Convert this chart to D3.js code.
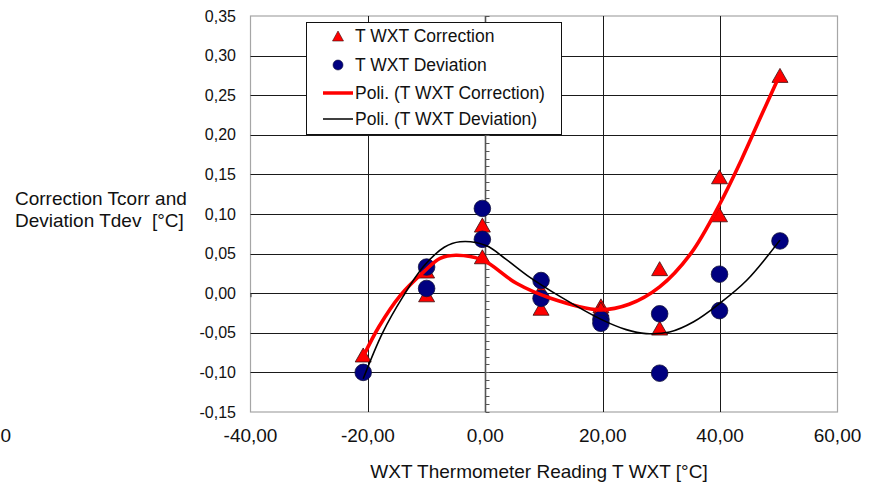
<!DOCTYPE html>
<html><head><meta charset="utf-8">
<script src="https://cdn.jsdelivr.net/npm/d3@7"></script>
<style>
html,body{margin:0;padding:0;background:#fff;}
svg{display:block;font-family:"Liberation Sans",Arial,sans-serif;}
</style></head><body>
<svg id="chart" width="872" height="482"></svg>
<script>
// WXT thermometer readings [°C] and the measured correction / deviation [°C]
const temps      = [-20.8, -10.0, -10.0, -0.5, -0.5, 9.5, 9.5, 19.7, 19.7, 29.7, 29.7, 39.9, 39.9, 50.2];
const correction = [-0.078, 0.028, -0.002, 0.086, 0.046, 0.004, -0.019, -0.016, -0.020, 0.031, -0.044, 0.147, 0.099, 0.275];
const deviation  = [-0.100, 0.033, 0.006, 0.107, 0.068, 0.016, -0.0065, -0.033, -0.038, -0.026, -0.101, 0.024, -0.022, 0.066];

// polynomial trendlines, sampled along the temperature axis
const corrTrendT = [-20.8, -18.1, -14.5, -10.5, -7.7, -5.0, -0.5, 5.3, 11.0, 19.5, 24.5, 29.7, 35.0, 39.9, 43.6, 47.0, 50.2];
const corrTrendV = [-0.080, -0.042, -0.003, 0.027, 0.044, 0.048, 0.042, 0.0125, -0.006, -0.021, -0.014, 0.008, 0.050, 0.112, 0.168, 0.224, 0.276];
const devTrendT  = [-20.8, -17.5, -14.0, -10.5, -7.0, -4.3, 0.2, 3.5, 7.6, 12.7, 20.0, 24.0, 27.4, 31.4, 35.5, 39.9, 44.5, 50.2];
const devTrendV  = [-0.108, -0.050, -0.004, 0.034, 0.058, 0.065, 0.060, 0.043, 0.020, -0.004, -0.034, -0.046, -0.051, -0.049, -0.036, -0.013, 0.016, 0.067];

const xTicks = [-40, -20, 0, 20, 40, 60];
const yTicks = [-0.15, -0.10, -0.05, 0, 0.05, 0.10, 0.15, 0.20, 0.25, 0.30, 0.35];
const legendLabels = ["T WXT Correction", "T WXT Deviation", "Poli. (T WXT Correction)", "Poli. (T WXT Deviation)"];

const locale = d3.formatLocale({decimal: ",", thousands: ".", grouping: [3], currency: ["", ""], minus: "-"});
const fmt = locale.format(".2f");

const svg = d3.select("#chart");
const x = d3.scaleLinear().domain([-40, 60]).range([250.5, 837.5]);
const y = d3.scaleLinear().domain([-0.15, 0.35]).range([412, 16]);

// plot frame and grid
const g = svg.append("g");
g.append("rect").attr("x", x(-40)).attr("y", y(0.35)).attr("width", x(60) - x(-40)).attr("height", y(-0.15) - y(0.35))
  .attr("fill", "none").attr("stroke", "#a6a6a6").attr("stroke-width", 1.2);
g.selectAll(".hgrid").data(yTicks.filter(v => v > -0.15 && v < 0.35)).join("line")
  .attr("x1", x(-40)).attr("x2", x(60)).attr("y1", d => Math.round(y(d)) + 0.5).attr("y2", d => Math.round(y(d)) + 0.5)
  .attr("stroke", "#1a1a1a").attr("stroke-width", 1);
g.selectAll(".vgrid").data(xTicks.filter(v => v !== 0 && v > -40 && v < 60)).join("line")
  .attr("y1", y(0.35)).attr("y2", y(-0.15)).attr("x1", d => Math.round(x(d)) + 0.5).attr("x2", d => Math.round(x(d)) + 0.5)
  .attr("stroke", "#1a1a1a").attr("stroke-width", 1);

// vertical axis crossing at 0 °C with minor ticks
const x0 = Math.round(x(0)) + 0.5;
g.append("line").attr("x1", x0).attr("x2", x0).attr("y1", y(0.35)).attr("y2", y(-0.15)).attr("stroke", "#555").attr("stroke-width", 1.6);
g.selectAll(".minor").data(d3.range(-15, 36).map(v => v / 100)).join("line")
  .attr("x1", x0).attr("x2", x0 + 4).attr("y1", d => Math.round(y(d)) + 0.5).attr("y2", d => Math.round(y(d)) + 0.5)
  .attr("stroke", "#555").attr("stroke-width", 1);
g.append("line").attr("x1", x(-40) + 0.5).attr("x2", x(-40) + 0.5).attr("y1", y(0)).attr("y2", y(0) + 4).attr("stroke", "#333");

// tick labels
svg.selectAll(".ylab").data(yTicks).join("text")
  .attr("x", 236).attr("y", d => y(d)).attr("dy", "0.35em").attr("text-anchor", "end")
  .attr("font-size", 16).attr("fill", "#111").text(d => fmt(d));
svg.selectAll(".xlab").data(xTicks).join("text")
  .attr("x", d => x(d)).attr("y", 442).attr("text-anchor", "middle")
  .attr("font-size", 19).attr("fill", "#111").text(d => fmt(d));
svg.append("text").attr("x", 11).attr("y", 442).attr("text-anchor", "end").attr("font-size", 19).attr("fill", "#111").text("0");

// axis titles
svg.append("text").attr("x", 539).attr("y", 478).attr("text-anchor", "middle").attr("font-size", 19).attr("fill", "#111")
  .text("WXT Thermometer Reading T WXT [°C]");
const yt = svg.append("text").attr("font-size", 19).attr("fill", "#111");
yt.append("tspan").attr("x", 15).attr("y", 204.5).text("Correction Tcorr and");
yt.append("tspan").attr("x", 15).attr("y", 226.5).attr("xml:space", "preserve").text("Deviation Tdev  [°C]");

// marker shapes
const triPath = (w, h) => `M0,${-h / 2}L${w / 2},${h / 2}L${-w / 2},${h / 2}Z`;

// markers: triangles (correction) under circles (deviation)
svg.append("g").selectAll("path").data(temps.map((t, i) => [t, correction[i]])).join("path")
  .attr("d", triPath(16, 14)).attr("transform", d => `translate(${x(d[0])},${y(d[1])})`)
  .attr("fill", "#ff0000").attr("stroke", "#3a1010").attr("stroke-width", 0.8);
svg.append("g").selectAll("circle").data(temps.map((t, i) => [t, deviation[i]])).join("circle")
  .attr("cx", d => x(d[0])).attr("cy", d => y(d[1])).attr("r", 8.3)
  .attr("fill", "#000080").attr("stroke", "#10103a").attr("stroke-width", 0.8);

// trendlines
const line = d3.line().x(d => x(d[0])).y(d => y(d[1])).curve(d3.curveCatmullRom.alpha(0.5));
svg.append("path").attr("d", line(corrTrendT.map((t, i) => [t, corrTrendV[i]])))
  .attr("fill", "none").attr("stroke", "#ff0000").attr("stroke-width", 3.6).attr("stroke-linejoin", "round");
svg.append("path").attr("d", line(devTrendT.map((t, i) => [t, devTrendV[i]])))
  .attr("fill", "none").attr("stroke", "#000").attr("stroke-width", 1.6).attr("stroke-linejoin", "round");

// legend
const lg = svg.append("g");
lg.append("rect").attr("x", 306.5).attr("y", 22.5).attr("width", 255).attr("height", 112)
  .attr("fill", "#fff").attr("stroke", "#111").attr("stroke-width", 1);
const ly = [36, 65, 93, 119];
lg.append("path").attr("d", triPath(11, 10)).attr("transform", `translate(338,${ly[0]})`)
  .attr("fill", "#ff0000").attr("stroke", "#3a1010").attr("stroke-width", 0.6);
lg.append("circle").attr("cx", 338).attr("cy", ly[1]).attr("r", 5).attr("fill", "#000080").attr("stroke", "#10103a").attr("stroke-width", 0.6);
lg.append("line").attr("x1", 323).attr("x2", 353).attr("y1", ly[2]).attr("y2", ly[2]).attr("stroke", "#ff0000").attr("stroke-width", 3.5);
lg.append("line").attr("x1", 323).attr("x2", 353).attr("y1", ly[3]).attr("y2", ly[3]).attr("stroke", "#000").attr("stroke-width", 1.5);
lg.selectAll("text").data(legendLabels).join("text")
  .attr("x", 355).attr("y", (d, i) => ly[i]).attr("dy", "0.35em").attr("font-size", 17.5).attr("fill", "#111").text(d => d);
</script>
</body></html>
